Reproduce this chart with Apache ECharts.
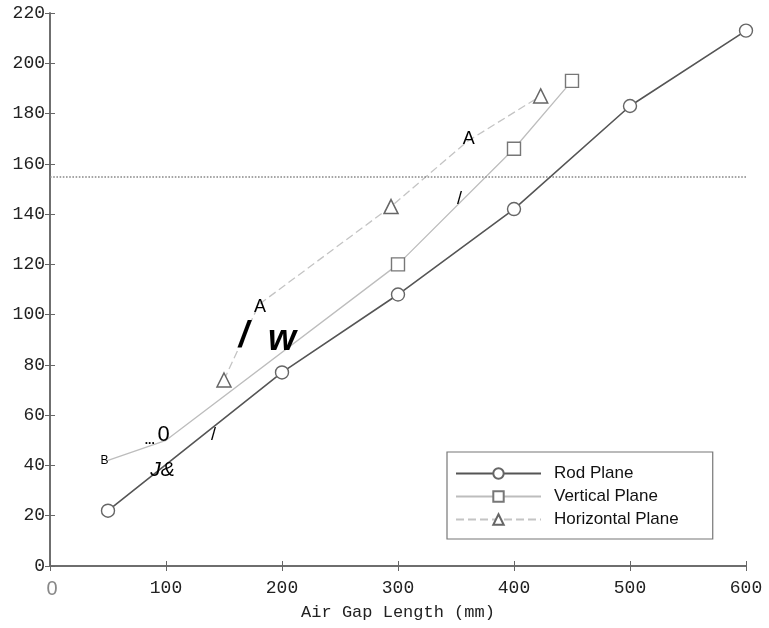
<!DOCTYPE html>
<html><head><meta charset="utf-8">
<script src="https://cdn.jsdelivr.net/npm/echarts@6/dist/echarts.min.js"></script>
<style>html,body{margin:0;padding:0;background:#fff}#c{width:769px;height:628px}</style>
</head><body><div id="c"></div>
<script>
// ---- data ----
const seriesNames = ['Rod Plane', 'Vertical Plane', 'Horizontal Plane'];
const rodX  = [50, 200, 300, 400, 500, 600];
const rodY  = [22, 77, 108, 142, 183, 213];
const vertX = [50, 100, 300, 400, 450];
const vertY = [42, 50, 120, 166, 193];
const horzX = [150, 180, 294, 360, 423];
const horzY = [74, 104, 143, 169, 187];
const refLevel = 155;
const xAxisTitle = 'Air Gap Length (mm)';
// points whose marker is replaced by scanned text in the reference
const vertTextIdx = [0, 1];
const horzTextIdx = [1, 3];
// scanned text remnants (data coordinates)
const noteText = ['B', '...', '0', 'J&', '/', '/', 'w', 'A', '/', 'A'];
const noteX    = [47, 86, 98, 97, 141, 167, 200, 181, 353, 361];
const noteY    = [42, 50, 52, 38, 52, 91, 90, 103, 146, 170];

// ---- styles ----
const noteFont = [
  '12px "Liberation Sans"', 'bold 12px "Liberation Sans"', '22px "Liberation Sans"',
  'italic 21px "Liberation Sans"', '18px "Liberation Sans"', 'bold italic 36px "Liberation Sans"',
  'bold italic 36px "Liberation Sans"', '18px "Liberation Sans"', '18px "Liberation Sans"',
  '18px "Liberation Sans"'
];
const mono = '"Liberation Mono", monospace';
const axisColor = '#666';

function pts(xs, ys, hidden, sym) {
  return xs.map((x, i) => hidden.indexOf(i) >= 0
    ? { value: [x, ys[i]], symbol: 'none' }
    : { value: [x, ys[i]], symbol: sym });
}

const chart = echarts.init(document.getElementById('c'), null, { renderer: 'canvas' });
const baseX = { type: 'value', min: 0, max: 600, interval: 100 };
const baseY = { type: 'value', min: 0, max: 220, interval: 20 };
chart.setOption({
  animation: false,
  backgroundColor: '#fff',
  grid: { left: 50, right: 23, top: 13, bottom: 62 },
  xAxis: [
    Object.assign({}, baseX, {
      position: 'bottom',
      axisLine: { lineStyle: { color: axisColor, width: 1.5 } },
      axisTick: { inside: true, length: 5, lineStyle: { color: axisColor } },
      splitLine: { show: false },
      axisLabel: {
        margin: 13, fontFamily: mono, fontSize: 18, color: '#222',
        formatter: v => v === 0 ? '{z|0}' : String(v),
        rich: { z: { fontFamily: '"Liberation Sans"', fontSize: 20, color: '#888', padding: [0, 0, 0, 4] } }
      },
      name: xAxisTitle, nameLocation: 'middle', nameGap: 38,
      nameTextStyle: { fontFamily: mono, fontSize: 17, color: '#222' }
    }),
    Object.assign({}, baseX, {
      position: 'top',
      axisLine: { lineStyle: { color: axisColor, width: 1.5 } },
      axisTick: { inside: true, length: 5, lineStyle: { color: axisColor } },
      axisLabel: { show: false }, splitLine: { show: false }
    })
  ],
  yAxis: [
    Object.assign({}, baseY, {
      position: 'left',
      axisLine: { show: true, lineStyle: { color: axisColor, width: 1.5 } },
      axisTick: { show: true, inside: true, length: 5, lineStyle: { color: axisColor } },
      splitLine: { show: false },
      axisLabel: { margin: 5, fontFamily: mono, fontSize: 18, color: '#222' }
    }),
    Object.assign({}, baseY, {
      position: 'right',
      axisLine: { show: true, lineStyle: { color: axisColor, width: 1.5 } },
      axisTick: { show: true, inside: true, length: 5, lineStyle: { color: axisColor } },
      axisLabel: { show: false }, splitLine: { show: false }
    })
  ],
  legend: {
    data: seriesNames,
    orient: 'vertical',
    left: 447, top: 452,
    padding: [13, 34, 11, 8],
    itemGap: 6,
    itemWidth: 85, itemHeight: 13,
    borderColor: '#777', borderWidth: 1.2,
    backgroundColor: '#fff',
    textStyle: { fontFamily: '"Liberation Sans"', fontSize: 17, color: '#111', padding: [0, 0, 0, 8] }
  },
  series: [
    {
      name: seriesNames[0], type: 'line', z: 5,
      symbol: 'circle',
      data: pts(rodX, rodY, [], 'circle'),
      symbolSize: 13,
      lineStyle: { color: '#555', width: 1.6 },
      itemStyle: { color: '#fff', borderColor: '#666', borderWidth: 1.4 },
      markLine: {
        silent: true, symbol: ['none', 'none'], label: { show: false },
        lineStyle: { type: 'dotted', color: '#888', width: 1.6 },
        data: [{ yAxis: refLevel }]
      }
    },
    {
      name: seriesNames[1], type: 'line', z: 4,
      symbol: 'rect',
      data: pts(vertX, vertY, vertTextIdx, 'rect'),
      symbolSize: 13,
      lineStyle: { color: '#bdbdbd', width: 1.3 },
      itemStyle: { color: '#fff', borderColor: '#777', borderWidth: 1.4 }
    },
    {
      name: seriesNames[2], type: 'line', z: 4,
      symbol: 'triangle',
      data: pts(horzX, horzY, horzTextIdx, 'triangle'),
      symbolSize: 14,
      lineStyle: { color: '#c4c4c4', width: 1.3, type: [8, 4] },
      itemStyle: { color: '#fff', borderColor: '#666', borderWidth: 1.5 }
    },
    {
      type: 'custom', silent: true, z: 10,
      data: noteText.map((t, i) => [noteX[i], noteY[i], i]),
      encode: { x: 0, y: 1 },
      renderItem: (params, api) => {
        const i = api.value(2);
        const p = api.coord([api.value(0), api.value(1)]);
        return {
          type: 'text', x: p[0], y: p[1],
          style: { text: noteText[i], font: noteFont[i], fill: '#000', align: 'center', verticalAlign: 'middle' }
        };
      }
    }
  ]
});
</script>
</body></html>
